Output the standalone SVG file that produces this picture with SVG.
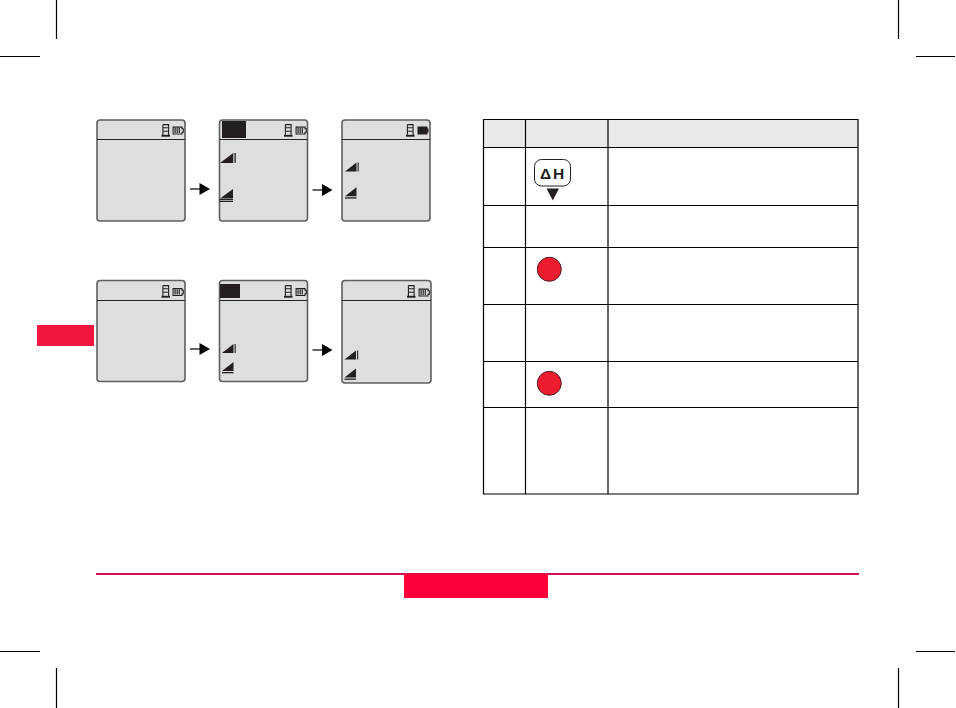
<svg xmlns="http://www.w3.org/2000/svg" width="956" height="708" viewBox="0 0 956 708">
<style>
.scr{fill:#dedede;stroke:#5f5f5f;stroke-width:1.6}
.hd{stroke:#222;stroke-width:1;fill:none}
.crop{stroke:#000;stroke-width:1.2;fill:none}
.tb{stroke:#000;stroke-width:1.2;fill:none}
.red{fill:#ed1c2e;stroke:#4a2028;stroke-width:1}
.k{fill:#231f20}
.ks{stroke:#231f20;fill:none}
</style>
<defs>
<g id="tower">
<path class="ks" stroke-width="1.100" d="M1.400 0.600H7.100V11M1.400 0.600V11M1.400 3.800H7.100M1.400 7.200H7.100"/>
<rect class="k" x="0" y="10.800" width="8.500" height="1.900"/>
</g>
<g id="batt">
<path class="ks" stroke-width="1.100" d="M0.600 0.600H9.500V2.300H10.800V5.700H9.500V7.500H0.600Z"/>
<path class="ks" stroke-width="1.200" d="M2.600 1.500V6.500M4.700 1.500V6.500M6.800 1.500V6.500"/>
</g>
<g id="battfull">
<path class="k" d="M0 0H10V2H11V6H10V8H0Z"/>
</g>
<g id="arr">
<path d="M0 0H10" stroke="#000" stroke-width="1.200" fill="none"/>
<path d="M9.500 -6L20 0L9.500 6Z" fill="#000"/>
</g>
<g id="sigI">
<path class="k" d="M0 9L11.500 0V9Z"/>
<rect class="k" x="12.600" y="0" width="1.100" height="9"/>
</g>
<g id="sigU">
<path class="k" d="M0 9L11.500 0V9Z"/>
<rect class="k" x="0" y="10" width="11.500" height="1.300"/>
</g>
</defs>

<g id="crop-marks">
<path class="crop" d="M56.500 0V39M0 56.500H40M56.500 668V708M0 651.500H40M898.500 0V39M916 56.500H955M898.500 668V708M916 651.500H955"/>
</g>

<g id="side-tab"><rect x="37" y="325" width="57" height="21" fill="#f0163f"/></g>

<g id="screen-1">
<rect class="scr" x="97" y="120" width="88" height="101" rx="3"/>
<path class="hd" d="M97 139.500H185"/>
<use href="#tower" x="161.500" y="124"/><use href="#batt" x="172.500" y="126.500"/>
</g>
<g id="screen-2">
<rect class="scr" x="219.500" y="120" width="88" height="101" rx="3"/>
<path class="hd" d="M219.500 139.500H307.500"/>
<rect class="k" x="222" y="121" width="24" height="17"/>
<use href="#tower" x="284" y="124"/><use href="#batt" x="295.500" y="126.500"/>
<use transform="translate(220 153) scale(1.150 1.100)" href="#sigI"/>
<path class="k" d="M220 198.500L233 189V198.500Z"/>
<rect class="k" x="219.500" y="199" width="13.500" height="1"/>
<rect class="k" x="219.500" y="200.700" width="13.500" height="1.300"/>
</g>
<g id="screen-3">
<rect class="scr" x="342" y="120" width="88" height="101" rx="3"/>
<path class="hd" d="M342 139.500H430"/>
<use href="#tower" x="406" y="124"/><use href="#battfull" x="417.500" y="126.500"/>
<use href="#sigI" x="345" y="162.500"/>
<use href="#sigU" x="345" y="187.300"/>
</g>
<g id="screen-4">
<rect class="scr" x="97" y="280.500" width="88" height="101" rx="3"/>
<path class="hd" d="M97 300.500H185"/>
<use href="#tower" x="161.500" y="285"/><use href="#batt" x="172.500" y="288"/>
</g>
<g id="screen-5">
<rect class="scr" x="219.500" y="280.500" width="88" height="101" rx="3"/>
<path class="hd" d="M219.500 300.500H307.500"/>
<rect class="k" x="220" y="284" width="20" height="14"/>
<use href="#tower" x="284" y="285"/><use href="#batt" x="295.500" y="288"/>
<use href="#sigI" x="222" y="344"/>
<use href="#sigU" x="222" y="362"/>
</g>
<g id="screen-6">
<rect class="scr" x="342" y="280.500" width="89" height="102.500" rx="3"/>
<path class="hd" d="M342 300.500H431"/>
<use href="#tower" x="407" y="285"/><use href="#batt" x="418.500" y="288.500"/>
<use href="#sigI" x="344.500" y="350.500"/>
<use href="#sigU" x="344.500" y="368.500"/>
</g>

<g id="connectors">
<use href="#arr" x="190" y="189"/>
<use href="#arr" x="312.500" y="190"/>
<use href="#arr" x="190" y="349"/>
<use href="#arr" x="312.500" y="350"/>
</g>

<g id="table">
<rect x="483.500" y="119.500" width="374.500" height="28" fill="#e9e9e9"/>
<path class="tb" d="M483.500 119.500H858V494H483.500ZM525.500 119.500V494M608 119.500V494M483.500 147.500H858M483.500 205.500H858M483.500 247.500H858M483.500 304.500H858M483.500 361.500H858M483.500 407.500H858"/>
</g>
<g id="key-dh">
<rect x="534.500" y="159.500" width="36" height="26.500" rx="7" fill="#fff" stroke="#231f20" stroke-width="1"/>
<text x="540" y="179" font-family="'Liberation Sans',Arial,sans-serif" font-size="15.500" font-weight="700" fill="#231f20" letter-spacing="1.800">ΔH</text>
<path class="k" d="M546.500 188.500H559L552.800 200.500Z"/>
</g>
<g id="key-red-1"><circle class="red" cx="549.300" cy="269.300" r="12"/></g>
<g id="key-red-2"><circle class="red" cx="549.300" cy="383.300" r="12"/></g>

<g id="footer">
<path d="M96 574H859" stroke="#d0104f" stroke-width="2" fill="none"/>
<rect x="404" y="574" width="144" height="24" fill="#ff003c"/>
</g>
</svg>
